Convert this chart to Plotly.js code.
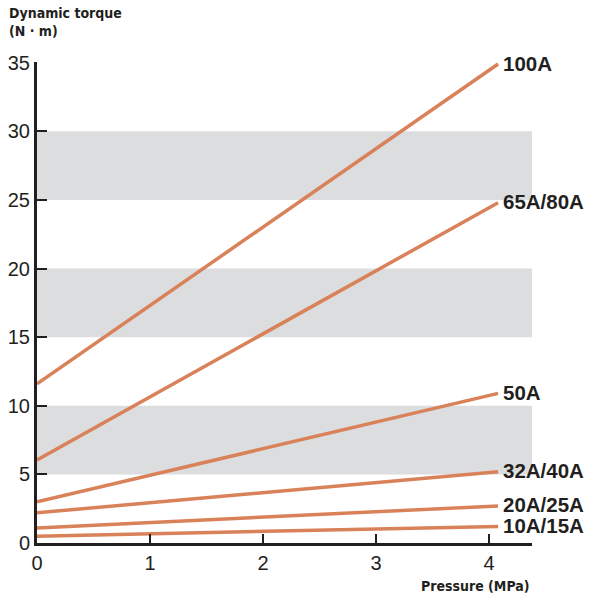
<!DOCTYPE html>
<html><head><meta charset="utf-8">
<script src="https://cdn.plot.ly/plotly-3.0.1.min.js"></script>
<style>body{margin:0;background:#fff}#c{width:596px;height:598px}</style>
</head><body><div id="c"></div>
<script>
const sizes = ["100A","65A/80A","50A","32A/40A","20A/25A","10A/15A"];
const pressure = [0, 4.08];
const torqueStart = [11.6, 6.05, 3.0, 2.2, 1.1, 0.5];
const torqueEnd = [34.9, 24.8, 10.9, 5.2, 2.7, 1.2];
const bandRanges = [[5,10],[15,20],[25,30]];
const xTicks = [0,1,2,3,4];
const yTicks = [0,5,10,15,20,25,30,35];

const lineColor = "#d9825a";
const traces = sizes.map((s,i)=>({
  x: pressure, y: [torqueStart[i], torqueEnd[i]],
  mode: "lines", line:{color:lineColor, width:3.5}, name:s, showlegend:false, hoverinfo:"skip"
}));
const shapes = bandRanges.map(b=>({type:"rect", xref:"x", yref:"y", x0:0, x1:4.38, y0:b[0], y1:b[1],
  fillcolor:"#dcdddf", line:{width:0}, layer:"below"}));
const labelFont = {family:"Liberation Sans, Arial, sans-serif", size:20.5, color:"#231f20"};
const annotations = sizes.map((s,i)=>({x:pressure[1], y:torqueEnd[i], xref:"x", yref:"y", text:"<b>"+s+"</b>",
  showarrow:false, xanchor:"left", yanchor:"middle", xshift:3, yshift:1, font:labelFont}));
const condFont = {family:"DejaVu Sans Condensed, Liberation Sans Narrow, Arial Narrow, sans-serif", size:14, color:"#231f20"};
annotations.push({xref:"paper", yref:"paper", x:-0.06, y:1.122, xanchor:"left", yanchor:"top", showarrow:false,
  align:"left", text:"<b>Dynamic torque</b><br><b>(N · m)</b>", font:condFont});
annotations.push({xref:"x", yref:"paper", x:4.38, y:-0.068, xanchor:"right", yanchor:"top", showarrow:false,
  text:"<b>Pressure (MPa)</b>", font:condFont});

const tickFont = {family:"Liberation Sans, Arial, sans-serif", size:20, color:"#231f20"};
Plotly.newPlot("c", traces, {
  width:596, height:598,
  margin:{l:36.5, r:64, t:62, b:55},
  paper_bgcolor:"#fff", plot_bgcolor:"#fff",
  xaxis:{range:[0,4.38], tickvals:xTicks, ticks:"inside", ticklen:9, tickwidth:2, tickcolor:"#231f20",
    showline:true, linecolor:"#231f20", linewidth:3, showgrid:false, zeroline:false, tickfont:tickFont, fixedrange:true},
  yaxis:{range:[0,35.05], tickvals:yTicks, ticks:"inside", ticklen:10, tickwidth:2, tickcolor:"#231f20",
    showline:true, linecolor:"#231f20", linewidth:3, showgrid:false, zeroline:false, tickfont:tickFont, fixedrange:true},
  shapes:shapes, annotations:annotations
}, {displayModeBar:false, staticPlot:true});
</script></body></html>
